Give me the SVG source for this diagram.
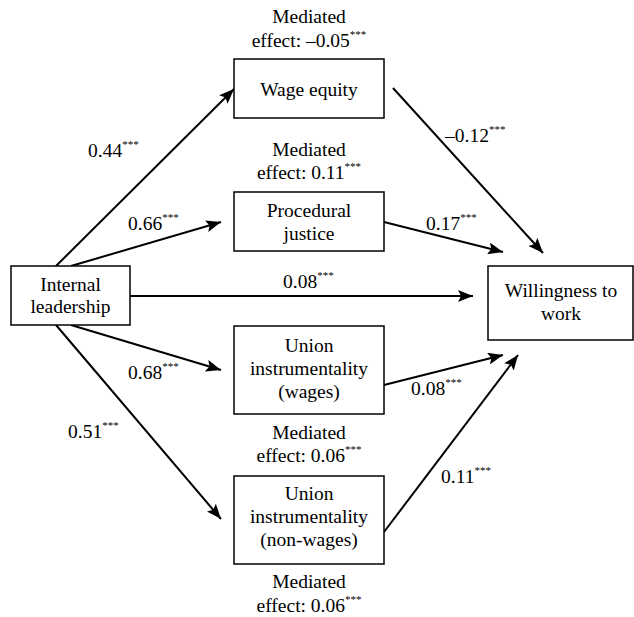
<svg xmlns="http://www.w3.org/2000/svg" width="634" height="617" viewBox="0 0 634 617">
<style>
text{font-family:"Times New Roman",Times,"Liberation Serif",Tinos,"Nimbus Roman","DejaVu Serif",serif;font-size:19.5px;fill:#000}
.c{text-anchor:middle}
.s{font-size:11px}
rect{fill:#fff;stroke:#000;stroke-width:1.5}
.e line{stroke:#000;stroke-width:2}
</style>
<defs>
<marker id="a" markerUnits="userSpaceOnUse" markerWidth="16" markerHeight="12" refX="15" refY="6" orient="auto">
<path d="M0,0 L15,6 L0,12 L3,6 Z" fill="#000"/>
</marker>
</defs>
<g class="e" id="connectors">
<line x1="56" y1="266" x2="234" y2="89" marker-end="url(#a)"/>
<line x1="71" y1="266" x2="221" y2="222" marker-end="url(#a)"/>
<line x1="130" y1="296" x2="473" y2="296" marker-end="url(#a)"/>
<line x1="71" y1="325" x2="221" y2="370" marker-end="url(#a)"/>
<line x1="56" y1="325" x2="221" y2="519" marker-end="url(#a)"/>
<line x1="393" y1="88" x2="543" y2="253" marker-end="url(#a)"/>
<line x1="384" y1="222" x2="503" y2="252" marker-end="url(#a)"/>
<line x1="384" y1="385" x2="503" y2="355" marker-end="url(#a)"/>
<line x1="384" y1="532" x2="518" y2="355" marker-end="url(#a)"/>
</g>
<g id="labels">
<text x="88" y="157">0.44<tspan class="s" dy="-9">***</tspan></text>
<text x="445" y="142">–0.12<tspan class="s" dy="-9">***</tspan></text>
<text x="128" y="230">0.66<tspan class="s" dy="-9">***</tspan></text>
<text x="426" y="230">0.17<tspan class="s" dy="-9">***</tspan></text>
<text x="283" y="288">0.08<tspan class="s" dy="-9">***</tspan></text>
<text x="128" y="379">0.68<tspan class="s" dy="-9">***</tspan></text>
<text x="411" y="395">0.08<tspan class="s" dy="-9">***</tspan></text>
<text x="68" y="438">0.51<tspan class="s" dy="-9">***</tspan></text>
<text x="441" y="483">0.11<tspan class="s" dy="-9">***</tspan></text>
</g>
<g id="mediated">
<text class="c" x="309" y="23">Mediated</text>
<text class="c" x="309" y="47">effect: –0.05<tspan class="s" dy="-9">***</tspan></text>
<text class="c" x="309" y="156">Mediated</text>
<text class="c" x="309" y="179">effect: 0.11<tspan class="s" dy="-9">***</tspan></text>
<text class="c" x="309" y="439">Mediated</text>
<text class="c" x="309" y="462">effect: 0.06<tspan class="s" dy="-9">***</tspan></text>
<text class="c" x="309" y="588">Mediated</text>
<text class="c" x="309" y="612">effect: 0.06<tspan class="s" dy="-9">***</tspan></text>
</g>
<g id="internal">
<rect x="11" y="266" width="119" height="59"/>
<text class="c" x="70.5" y="291">Internal</text>
<text class="c" x="70.5" y="313">leadership</text>
</g>
<g id="wage">
<rect x="234" y="59" width="150" height="59"/>
<text class="c" x="309" y="96">Wage equity</text>
</g>
<g id="procedural">
<rect x="234" y="192" width="150" height="59"/>
<text class="c" x="309" y="217">Procedural</text>
<text class="c" x="309" y="240">justice</text>
</g>
<g id="unionwages">
<rect x="234" y="326" width="150" height="88"/>
<text class="c" x="309" y="352">Union</text>
<text class="c" x="309" y="375">instrumentality</text>
<text class="c" x="309" y="398">(wages)</text>
</g>
<g id="unionnonwages">
<rect x="234" y="476" width="150" height="88"/>
<text class="c" x="309" y="500">Union</text>
<text class="c" x="309" y="523">instrumentality</text>
<text class="c" x="309" y="546">(non-wages)</text>
</g>
<g id="willingness">
<rect x="488" y="266" width="145" height="74"/>
<text class="c" x="561" y="297">Willingness to</text>
<text class="c" x="561" y="320">work</text>
</g>
</svg>
